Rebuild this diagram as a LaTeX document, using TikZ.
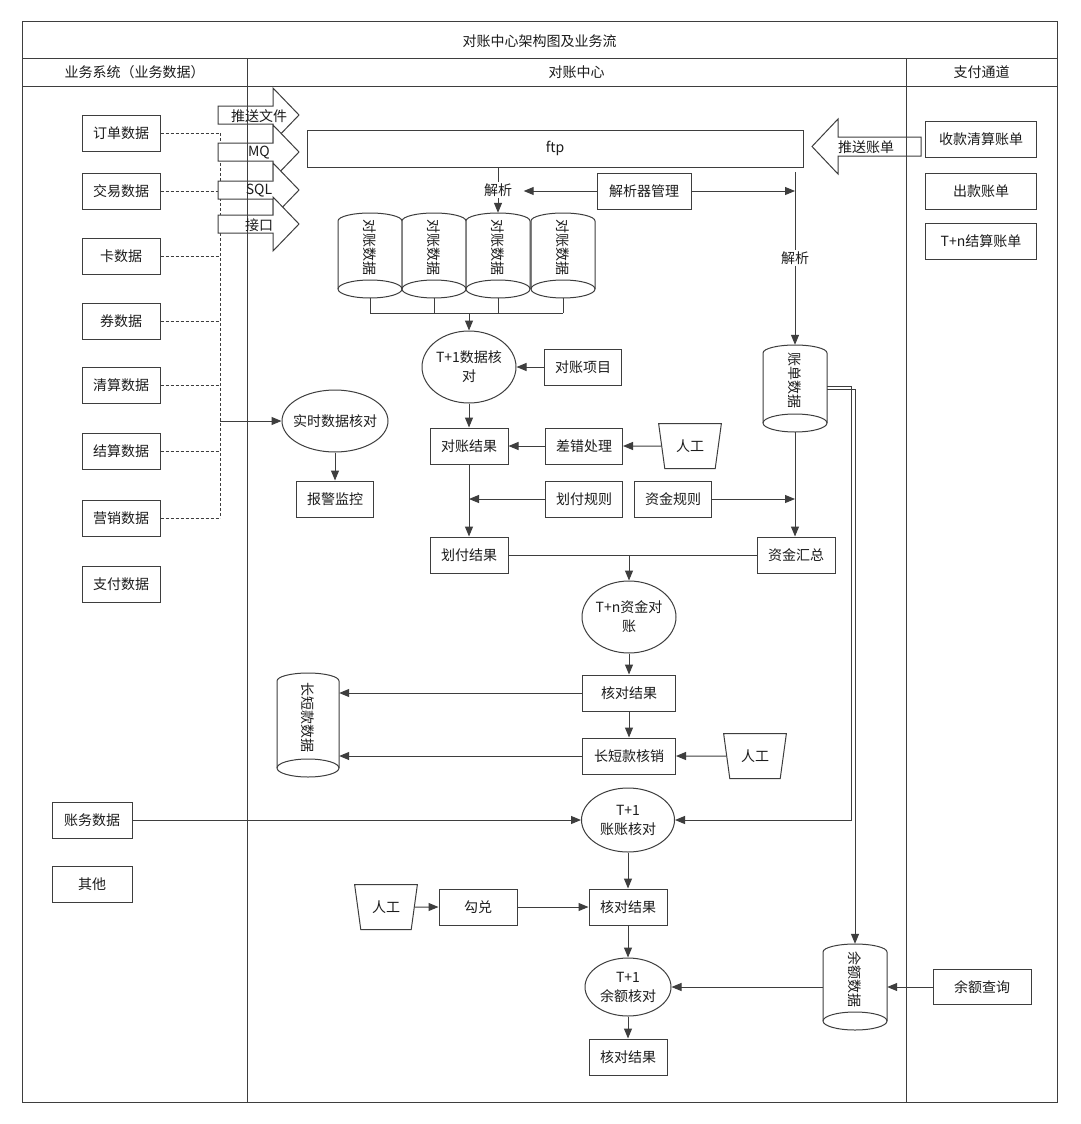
\documentclass[tikz,border=0pt]{standalone}
\usepackage{fontspec}
\setmainfont{Noto Sans CJK SC}
\usetikzlibrary{shapes.geometric,arrows.meta}
\definecolor{lc}{RGB}{62,62,62}
\definecolor{tc}{RGB}{28,28,28}
\newcommand\mycyl[6]{%
  \draw[ln, fill=white] ({#2-#5},{#3+8}) arc[start angle=180,end angle=360,x radius=#5,y radius=8]
     -- ({#2+#5},{#4-9}) arc[start angle=0,end angle=180,x radius=#5,y radius=9] -- cycle;
  \draw[ln] ({#2-#5},{#4-9}) arc[start angle=180,end angle=360,x radius=#5,y radius=9];
  \node[minimum width={2*#5}, minimum height={#4-#3}, inner sep=0pt] (#1) at (#2,{(#3+#4)/2}) {};
  \node[rotate=-90] at (#2,{(#3+#4)/2-8}) {#6};
}
\begin{document}
\begin{tikzpicture}[x=1pt,y=-1pt,
  every node/.style={font=\fontsize{14}{19}\selectfont, text=tc},
  box/.style={draw=lc, line width=1pt, fill=white, minimum height=36, inner sep=0pt},
  ell/.style={draw=lc, line width=1pt, fill=white, ellipse, inner sep=0pt},
  trap/.style={draw=lc, line width=1pt, fill=white, trapezium, trapezium stretches=true,
     trapezium left angle=75, trapezium right angle=75, shape border rotate=180,
     minimum width=63, minimum height=45, inner sep=0pt},
  ln/.style={draw=lc, line width=1pt},
  arr/.style={draw=lc, line width=1pt, -{Triangle[length=10pt,width=8pt]}},
  dsh/.style={draw=lc, line width=0.8pt, dash pattern=on 3pt off 2pt},
  lbl/.style={fill=white, inner sep=1.5pt}]

\useasboundingbox (0,0) rectangle (1080,1124);
\fill[white] (0,0) rectangle (1080,1124);

% ---------- left column boxes ----------
\node[box, minimum width=78] (ld1) at (121,133) {订单数据};
\node[box, minimum width=78] (ld2) at (121,191) {交易数据};
\node[box, minimum width=78] (ld3) at (121,256) {卡数据};
\node[box, minimum width=78] (ld4) at (121,321) {券数据};
\node[box, minimum width=78] (ld5) at (121,385) {清算数据};
\node[box, minimum width=78] (ld6) at (121,451) {结算数据};
\node[box, minimum width=78] (ld7) at (121,518) {营销数据};
\node[box, minimum width=78] (ld8) at (121,584) {支付数据};
\node[box, minimum width=80] (zw) at (92,820) {账务数据};
\node[box, minimum width=80] (qt) at (92,884) {其他};

\coordinate (bus) at (220,0);
\foreach \n in {ld1,ld2,ld3,ld4,ld5,ld6,ld7} \draw[dsh] (\n.east) -- (\n.east -| bus);
\draw[dsh] (ld1.east -| bus) -- (ld7.east -| bus);

% ---------- push arrows ----------
\foreach \y in {115,152,190,224} {
  \draw[ln, fill=white] (218,\y-9) -- (273,\y-9) -- (273,\y-27) -- (299,\y) -- (273,\y+27) -- (273,\y+9) -- (218,\y+9) -- cycle;
}
\draw[ln, fill=white] (921,137) -- (838,137) -- (838,119) -- (812,146.5) -- (838,174) -- (838,156) -- (921,156) -- cycle;

% ---------- frame ----------
\draw[ln] (22,22) rectangle (1057,1102);
\draw[ln] (22,59) -- (1057,59);
\draw[ln] (22,86) -- (1057,86);
\draw[ln] (247,59) -- (247,1102);
\draw[ln] (906,59) -- (906,1102);
\node (title) at (539.5,41) {对账中心架构图及业务流};
\node (h1) at (134.5,72.5) {业务系统（业务数据）};
\node (h2) at (576.5,72.5) {对账中心};
\node (h3) at (981.5,72.5) {支付通道};

\node (pa1) at (259,116) {推送文件};
\node (pa2) at (259,153) {MQ};
\node (pa3) at (259,191) {SQL};
\node (pa4) at (259,225) {接口};
\node (pzd) at (866,147) {推送账单};

% ---------- right column ----------
\node[box, minimum width=111] (r1) at (981,139) {收款清算账单};
\node[box, minimum width=111] (r2) at (981,191) {出款账单};
\node[box, minimum width=111] (r3) at (981,241) {T+n结算账单};
\node[box, minimum width=98, minimum height=35] (yecx) at (982,987) {余额查询};

% ---------- realtime ----------
\node[ell, minimum width=106, minimum height=62] (ss) at (335,421) {};
\node at (ss) {实时数据核对};
\draw[arr] (ss.west -| bus) -- (ss.west);
\node[box, minimum width=77] (bj) at (335,499) {报警监控};
\draw[arr] (ss.south) -- (bj.north);

% ---------- ftp & parsing ----------
\node[box, minimum width=496, minimum height=37] (ftp) at (555,148.5) {ftp};
\node[box, minimum width=94] (jxq) at (644,191) {解析器管理};

\mycyl{db1}{370}{213}{298}{32}{对账数据}
\mycyl{db2}{434}{213}{298}{32}{对账数据}
\mycyl{db3}{498}{213}{298}{32}{对账数据}
\mycyl{db4}{563}{213}{298}{32}{对账数据}

\draw[arr] (ftp.south -| db3.north) -- (db3.north);
\node[lbl] (jx1) at (498,190) {解析};
\draw[arr, shorten >=10pt] (jxq.west) -- (jxq.west -| jx1.east);

\mycyl{zd}{795}{345}{432}{32}{账单数据}
\coordinate (r0) at (795,172);
\draw[arr] (r0) -- (zd.north);
\node[lbl] (jx2) at (795,258) {解析};
\draw[arr] (jxq.east) -- (jxq.east -| r0);

% ---------- T+1 data check ----------
\node[ell, minimum width=94, minimum height=72] (t1) at (469,367) {};
\node[align=center] at (t1) {T+1数据核\\对};
\foreach \n in {db1,db2,db3,db4} \draw[ln] (\n.south) -- (\n.south |- 0,313);
\draw[ln] (db1.south |- 0,313) -- (db4.south |- 0,313);
\draw[arr] (t1.north |- 0,313) -- (t1.north);

\node[box, minimum width=77] (dzxm) at (583,367) {对账项目};
\draw[arr] (dzxm.west) -- (t1.east);

\node[box, minimum width=78] (dzjg) at (469,446) {对账结果};
\draw[arr] (t1.south) -- (dzjg.north);
\node[box, minimum width=77] (cccl) at (584,446) {差错处理};
\draw[arr] (cccl.west) -- (dzjg.east);
\node[trap] (rg1) at (690,446) {人工};
\draw[arr] (rg1.west) -- (cccl.east);

\node[box, minimum width=77] (hfgz) at (584,499) {划付规则};
\node[box, minimum width=77] (zjgz) at (673,499) {资金规则};
\node[box, minimum width=78] (hfjg) at (469,555) {划付结果};
\draw[arr] (dzjg.south) -- (hfjg.north);
\draw[arr] (hfgz.west) -- (hfgz.west -| dzjg.south);

\node[box, minimum width=78] (zjhz) at (796,555) {资金汇总};
\draw[arr] (zd.south) -- (zd.south |- zjhz.north);
\draw[arr] (zjgz.east) -- (zjgz.east -| zd.south);

% ---------- T+n ----------
\node[ell, minimum width=94, minimum height=72] (tn) at (629,617) {};
\node[align=center] at (tn) {T+n资金对\\账};
\draw[ln] (hfjg.east) -- (zjhz.west);
\draw[arr] (tn.north |- hfjg.east) -- (tn.north);

\node[box, minimum width=93] (hd1) at (629,693) {核对结果};
\draw[arr] (tn.south) -- (hd1.north);
\node[box, minimum width=93] (cdkhx) at (629,756) {长短款核销};
\draw[arr] (hd1.south) -- (cdkhx.north);
\node[trap] (rg2) at (755,756) {人工};
\draw[arr] (rg2.west) -- (cdkhx.east);

\mycyl{cdd}{308}{673}{777}{31}{长短款数据}
\draw[arr] (hd1.west) -- (hd1.west -| cdd.east);
\draw[arr] (cdkhx.west) -- (cdkhx.west -| cdd.east);

% ---------- T+1 account check ----------
\node[ell, minimum width=93, minimum height=64] (zz) at (628,820) {};
\node[align=center] at (zz) {T+1\\账账核对};
\draw[arr] (zw.east) -- (zz.west);

\mycyl{yed}{855}{944}{1030}{32}{余额数据}
\draw[arr] (zd.east |- 0,386) -- (851,386) |- (zz.east);
\draw[arr] (zd.east |- 0,389.5) -- (855,389.5) -- (yed.north);

\node[box, minimum width=78] (hd2) at (628,907) {核对结果};
\draw[arr] (zz.south) -- (hd2.north);
\node[box, minimum width=78] (gd) at (478,907) {勾兑};
\node[trap] (rg3) at (386,907) {人工};
\draw[arr] (rg3.east) -- (gd.west);
\draw[arr] (gd.east) -- (hd2.west);

\node[ell, minimum width=86, minimum height=58] (ye) at (628,987) {};
\node[align=center] at (ye) {T+1\\余额核对};
\draw[arr] (hd2.south) -- (ye.north);
\draw[arr] (yed.west) -- (ye.east);
\draw[arr] (yecx.west) -- (yed.east);

\node[box, minimum width=78] (hd3) at (628,1057) {核对结果};
\draw[arr] (ye.south) -- (hd3.north);
\end{tikzpicture}
\end{document}
